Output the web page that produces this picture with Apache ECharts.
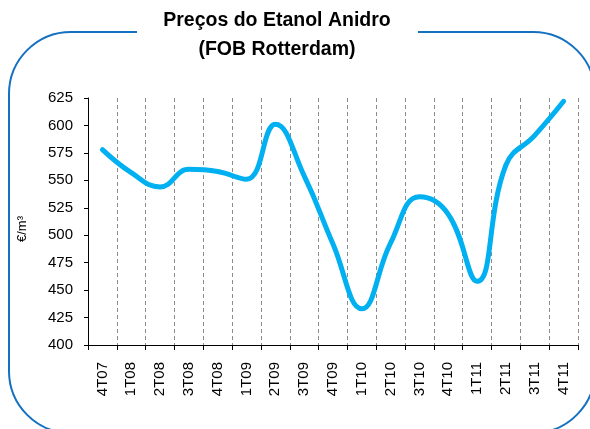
<!DOCTYPE html>
<html>
<head>
<meta charset="utf-8">
<script src="https://cdn.jsdelivr.net/npm/echarts@6/dist/echarts.min.js"></script>
<style>html,body{margin:0;padding:0;background:#fff}#c{width:590px;height:429px}</style>
</head>
<body>
<div id="c"></div>
<script>
const titleLines = ['Preços do Etanol Anidro', '(FOB Rotterdam)'];
const yAxisName = '€/m³';
const categories = ['4T07','1T08','2T08','3T08','4T08','1T09','2T09','3T09','4T09','1T10','2T10','3T10','4T10','1T11','2T11','3T11','4T11'];
const prices = [578, 557, 544, 560, 558, 551, 601, 554, 492, 433, 493, 535, 519, 458, 564, 591, 622];
const yMin = 400, yMax = 625, yStep = 25;

const chart = echarts.init(document.getElementById('c'));
const FONT = '"Liberation Sans", Arial, Helvetica, sans-serif';
chart.setOption({
  animation: false,
  backgroundColor: '#ffffff',
  grid: { left: 88, right: 12, top: 98, bottom: 84, containLabel: false },
  graphic: [
    { type: 'rect', z: -10, shape: { x: 9, y: 32, width: 586, height: 401, r: 62 },
      style: { fill: 'none', stroke: '#1470c0', lineWidth: 2 } },
    { type: 'rect', z: -9, shape: { x: 137, y: 27, width: 281, height: 10 },
      style: { fill: '#ffffff', stroke: null } },
    { type: 'text', x: 277, y: 21, style: { text: titleLines[0], textAlign: 'center', textVerticalAlign: 'middle',
      font: 'bold 19.5px ' + FONT, fill: '#000' } },
    { type: 'text', x: 277, y: 50, style: { text: titleLines[1], textAlign: 'center', textVerticalAlign: 'middle',
      font: 'bold 19.5px ' + FONT, fill: '#000' } },
    { type: 'text', x: 22, y: 229, rotation: Math.PI / 2, style: { text: yAxisName, textAlign: 'center', textVerticalAlign: 'middle',
      font: '13px ' + FONT, fill: '#000' } }
  ],
  xAxis: {
    type: 'category',
    data: categories,
    boundaryGap: true,
    axisLine: { show: true, lineStyle: { color: '#000', width: 1 } },
    axisTick: { show: true, length: 5, lineStyle: { color: '#000' } },
    axisLabel: { rotate: 90, margin: 17, fontSize: 15, fontFamily: FONT, color: '#000', interval: 0 },
    splitLine: { show: true, lineStyle: { color: '#8c8c8c', type: [4, 3], width: 1 } }
  },
  yAxis: {
    type: 'value',
    min: yMin, max: yMax, interval: yStep,
    axisLine: { show: true, lineStyle: { color: '#000', width: 1 } },
    axisTick: { show: true, length: 4, lineStyle: { color: '#000' } },
    axisLabel: { margin: 15, fontSize: 15, fontFamily: FONT, color: '#000' },
    splitLine: { show: false }
  },
  series: [{
    type: 'line',
    data: prices,
    smooth: 0.45,
    symbol: 'none',
    lineStyle: { color: '#00b0f0', width: 5, cap: 'round', join: 'round' }
  }]
});
</script>
</body>
</html>
